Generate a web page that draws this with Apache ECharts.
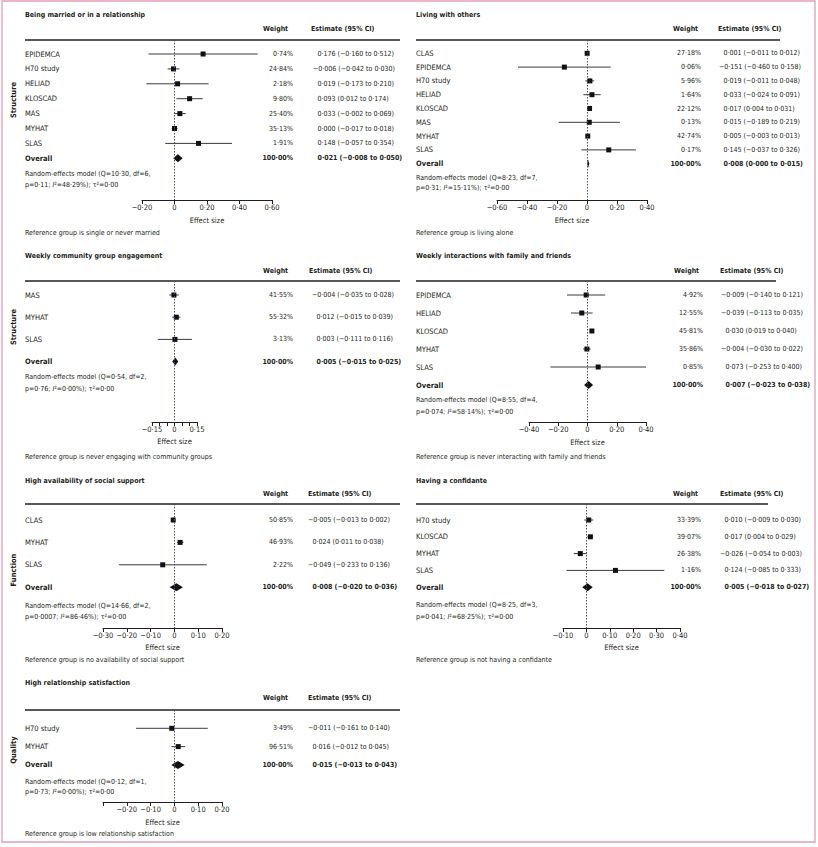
<!DOCTYPE html>
<html><head><meta charset="utf-8">
<script src="https://cdn.jsdelivr.net/npm/echarts@6/dist/echarts.min.js"></script>
<style>html,body{margin:0;padding:0;background:#fff}#c{width:818px;height:847px}</style>
</head><body><div id="c"></div>
<script>
// ---------- DATA ----------
const marriedStudies = ['EPIDEMCA','H70 study','HELIAD','KLOSCAD','MAS','MYHAT','SLAS','Overall'];
const marriedWeights = [0.74,24.84,2.18,9.80,25.40,35.13,1.91,100.00];
const marriedEst = [0.176,-0.006,0.019,0.093,0.033,0.000,0.148,0.021];
const marriedLo  = [-0.160,-0.042,-0.173,0.012,-0.002,-0.017,-0.057,-0.008];
const marriedHi  = [0.512,0.030,0.210,0.174,0.069,0.018,0.354,0.050];
const marriedTicks = [-0.2,0,0.2,0.4,0.6];
const marriedRange = [-0.2,0.6,0.2];

const livingStudies = ['CLAS','EPIDEMCA','H70 study','HELIAD','KLOSCAD','MAS','MYHAT','SLAS','Overall'];
const livingWeights = [27.18,0.06,5.96,1.64,22.12,0.13,42.74,0.17,100.00];
const livingEst = [0.001,-0.151,0.019,0.033,0.017,0.015,0.005,0.145,0.008];
const livingLo  = [-0.011,-0.460,-0.011,-0.024,0.004,-0.189,-0.003,-0.037,0.000];
const livingHi  = [0.012,0.158,0.048,0.091,0.031,0.219,0.013,0.326,0.015];
const livingTicks = [-0.6,-0.4,-0.2,0,0.2,0.4];
const livingRange = [-0.6,0.4,0.2];

const communityStudies = ['MAS','MYHAT','SLAS','Overall'];
const communityWeights = [41.55,55.32,3.13,100.00];
const communityEst = [-0.004,0.012,0.003,0.005];
const communityLo  = [-0.035,-0.015,-0.111,-0.015];
const communityHi  = [0.028,0.039,0.116,0.025];
const communityTicks = [-0.15,0,0.15];
const communityRange = [-0.15,0.15,0.05];

const familyStudies = ['EPIDEMCA','HELIAD','KLOSCAD','MYHAT','SLAS','Overall'];
const familyWeights = [4.92,12.55,45.81,35.86,0.85,100.00];
const familyEst = [-0.009,-0.039,0.030,-0.004,0.073,0.007];
const familyLo  = [-0.140,-0.113,0.019,-0.030,-0.253,-0.023];
const familyHi  = [0.121,0.035,0.040,0.022,0.400,0.038];
const familyTicks = [-0.4,-0.2,0,0.2,0.4];
const familyRange = [-0.4,0.4,0.2];

const supportStudies = ['CLAS','MYHAT','SLAS','Overall'];
const supportWeights = [50.85,46.93,2.22,100.00];
const supportEst = [-0.005,0.024,-0.049,0.008];
const supportLo  = [-0.013,0.011,-0.233,-0.020];
const supportHi  = [0.002,0.038,0.136,0.036];
const supportTicks = [-0.3,-0.2,-0.1,0,0.1,0.2];
const supportRange = [-0.3,0.2,0.1];

const confidanteStudies = ['H70 study','KLOSCAD','MYHAT','SLAS','Overall'];
const confidanteWeights = [33.39,39.07,26.38,1.16,100.00];
const confidanteEst = [0.010,0.017,-0.026,0.124,0.005];
const confidanteLo  = [-0.009,0.004,-0.054,-0.085,-0.018];
const confidanteHi  = [0.030,0.029,0.003,0.333,0.027];
const confidanteTicks = [-0.1,0,0.1,0.2,0.3,0.4];
const confidanteRange = [-0.1,0.4,0.1];

const satisfactionStudies = ['H70 study','MYHAT','Overall'];
const satisfactionWeights = [3.49,96.51,100.00];
const satisfactionEst = [-0.011,0.016,0.015];
const satisfactionLo  = [-0.161,-0.012,-0.013];
const satisfactionHi  = [0.140,0.045,0.043];
const satisfactionTicks = [-0.2,-0.1,0,0.1,0.2];
const satisfactionRange = [-0.3,0.2,0.1];

// ---------- TEXT ----------
const panelTitles = ['Being married or in a relationship','Living with others','Weekly community group engagement',
  'Weekly interactions with family and friends','High availability of social support','Having a confidante','High relationship satisfaction'];
const statsLine1 = ['Random-effects model (Q=10·30, df=6,','Random-effects model (Q=8·23, df=7,','Random-effects model (Q=0·54, df=2,',
  'Random-effects model (Q=8·55, df=4,','Random-effects model (Q=14·66, df=2,','Random-effects model (Q=8·25, df=3,','Random-effects model (Q=0·12, df=1,'];
const statsP = ['p=0·11; ','p=0·31; ','p=0·76; ','p=0·074; ','p=0·0007; ','p=0·041; ','p=0·73; '];
const statsI2 = ['²=48·29%); τ²=0·00','²=15·11%); τ²=0·00','²=0·00%); τ²=0·00','²=58·14%); τ²=0·00','²=86·46%); τ²=0·00','²=68·25%); τ²=0·00','²=0·00%); τ²=0·00'];
const refTexts = ['Reference group is single or never married','Reference group is living alone','Reference group is never engaging with community groups',
  'Reference group is never interacting with family and friends','Reference group is no availability of social support','Reference group is not having a confidante',
  'Reference group is low relationship satisfaction'];
const sideLabels = [['Structure',100],['Structure',327],['Function',570],['Quality',750]];

// ---------- LAYOUT (pixels) ----------
const layouts = [
 {L:142,R:272,T:40,B:200,r0:54,s:14.9,x0:25,wx:293,ex:313,ruleR:400,hW:263,hE:311,tY:15,hY:29,s1:174,s2:185,eY:221,rY:233},
 {L:497,R:647,T:40,B:200,r0:53.3,s:13.8,x0:416,wx:701,ex:719,ruleR:780,hW:673,hE:718,tY:15,hY:29,s1:178,s2:188,eY:221,rY:233},
 {L:152,R:197,T:281,B:422,r0:295,s:22.2,x0:25,wx:293,ex:312,ruleR:400,hW:263,hE:309,tY:256,hY:271,s1:377,s2:389,eY:442,rY:457},
 {L:529,R:646,T:281,B:422,r0:295,s:18,x0:416,wx:703,ex:721,ruleR:776,hW:674,hE:720,tY:256,hY:271,s1:400,s2:412,eY:443,rY:457},
 {L:103,R:222,T:504,B:628,r0:520,s:22.4,x0:25,wx:293,ex:308,ruleR:400,hW:263,hE:308,tY:481,hY:494,s1:606,s2:617,eY:648,rY:660},
 {L:563,R:680,T:504,B:628,r0:520,s:16.8,x0:416,wx:701,ex:720,ruleR:768,hW:673,hE:720,tY:481,hY:494,s1:605,s2:617,eY:648,rY:660},
 {L:103,R:222,T:710,B:802,r0:728.3,s:18.3,x0:25,wx:293,ex:308,ruleR:400,hW:263,hE:308,tY:683,hY:698,s1:782,s2:792,eY:823,rY:834}
];
const panelData = [
 [marriedStudies,marriedWeights,marriedEst,marriedLo,marriedHi,marriedTicks,marriedRange],
 [livingStudies,livingWeights,livingEst,livingLo,livingHi,livingTicks,livingRange],
 [communityStudies,communityWeights,communityEst,communityLo,communityHi,communityTicks,communityRange],
 [familyStudies,familyWeights,familyEst,familyLo,familyHi,familyTicks,familyRange],
 [supportStudies,supportWeights,supportEst,supportLo,supportHi,supportTicks,supportRange],
 [confidanteStudies,confidanteWeights,confidanteEst,confidanteLo,confidanteHi,confidanteTicks,confidanteRange],
 [satisfactionStudies,satisfactionWeights,satisfactionEst,satisfactionLo,satisfactionHi,satisfactionTicks,satisfactionRange]
];

const FONT = "'Liberation Sans Narrow','Arial Narrow','DejaVu Sans Condensed','Liberation Sans',sans-serif";
const INK = '#231f20';
const FS = 7;       // numbers, notes
const FS_NAME = 7.5; // study names
const FS_B = 7;     // bold headers / titles
const fmtNum = v => (v < 0 ? '−' : '') + Math.abs(v).toFixed(3).replace('.', '·');
const fmtTick = v => Math.abs(v) < 1e-9 ? '0' : (v < 0 ? '−' : '') + Math.abs(v).toFixed(2).replace('.', '·');
const fmtW = w => w.toFixed(2).replace('.', '·') + '%';
const txt = (extra) => Object.assign({fontFamily: FONT, fontSize: FS, color: INK}, extra || {});

const grids = [], xAxes = [], yAxes = [], series = [], graphics = [];

graphics.push({type:'rect', shape:{x:2, y:1, width:813, height:841}, style:{fill:'none', stroke:'#e39db6', lineWidth:1.3}, silent:true});

panelData.forEach((pd, i) => {
  const [studies, weights, est, lo, hi, ticks, range] = pd;
  const g = layouts[i];
  const idx = studies.map((_, k) => k);
  grids.push({left:g.L, top:g.T, width:g.R-g.L, height:g.B-g.T, containLabel:false, outerBoundsMode:'none'});
  xAxes.push({
    gridIndex:i, type:'value', min:range[0], max:range[1], interval:range[2],
    axisLine:{onZero:false, lineStyle:{color:INK, width:1}},
    axisTick:{length:4, lineStyle:{color:INK, width:1}},
    splitLine:{show:false},
    axisLabel:Object.assign(txt({fontSize:7.5}), {margin:3, formatter: v => ticks.some(t => Math.abs(t - v) < 1e-9) ? fmtTick(v) : ''}),
    name:'Effect size', nameLocation:'middle', nameGap:g.eY - g.B - 5, nameTextStyle:txt({fontSize:7.5})
  });
  const yBase = {gridIndex:i, type:'value', inverse:true, min:(g.T - g.r0)/g.s, max:(g.B - g.r0)/g.s,
    axisLine:{show:false, onZero:false}, axisTick:{show:false}, splitLine:{show:false}};
  yAxes.push(Object.assign({}, yBase, {position:'left',
    axisLabel:Object.assign(txt({fontSize:FS_NAME}), {customValues:idx, align:'left', margin:g.L - g.x0,
      formatter: v => { const s = studies[Math.round(v)]; return s === 'Overall' ? '{b|' + s + '}' : s; },
      rich:{b:txt({fontSize:FS_NAME, fontWeight:'bold'})}})}));
  yAxes.push(Object.assign({}, yBase, {position:'right', offset:g.wx - g.R,
    axisLabel:Object.assign(txt(), {customValues:idx, align:'right', margin:0,
      formatter: v => { const k = Math.round(v); const s = fmtW(weights[k]); return studies[k] === 'Overall' ? '{b|' + s + '}' : s; },
      rich:{b:txt({fontWeight:'bold'})}})}));
  yAxes.push(Object.assign({}, yBase, {position:'right', offset:g.ex - g.R,
    axisLabel:Object.assign(txt(), {customValues:idx, align:'left', margin:0,
      formatter: v => {
        const k = Math.round(v);
        const s = fmtNum(est[k]) + ' (' + fmtNum(lo[k]) + ' to ' + fmtNum(hi[k]) + ')';
        const ov = studies[k] === 'Overall';
        const key = (ov ? 'b' : 'n') + (est[k] < 0 ? 'n' : 'p');
        return '{' + key + '|' + s + '}';
      },
      rich:{np:txt({padding:[0,0,0,4.5]}), nn:txt(), bp:txt({fontWeight:'bold', padding:[0,0,0,4.5]}), bn:txt({fontWeight:'bold'})}})}));
  series.push({
    type:'custom', xAxisIndex:i, yAxisIndex:3*i, clip:false, silent:true,
    data: studies.map((s, k) => [k, est[k], lo[k], hi[k], s === 'Overall' ? 1 : 0]),
    encode:{x:[1,2,3], y:0},
    renderItem:(params, api) => {
      const k = api.value(0);
      const pE = api.coord([api.value(1), k]);
      const pL = api.coord([api.value(2), k]);
      const pH = api.coord([api.value(3), k]);
      if (api.value(4)) {
        return {type:'polygon', shape:{points:[[pL[0],pE[1]],[pE[0],pE[1]-4],[pH[0],pE[1]],[pE[0],pE[1]+4]]}, style:{fill:'#111'}};
      }
      return {type:'group', children:[
        {type:'line', shape:{x1:pL[0], y1:pE[1], x2:pH[0], y2:pE[1]}, style:{stroke:'#3a3a3a', lineWidth:1}},
        {type:'rect', shape:{x:pE[0]-2.5, y:pE[1]-2.5, width:5, height:5}, style:{fill:'#111'}}
      ]};
    },
    markLine:{silent:true, symbol:'none', label:{show:false}, animation:false,
      lineStyle:{type:[1.5,1.5], color:'#3f5170', width:1}, data:[{xAxis:0}]}
  });
  const tstyle = (extra) => Object.assign({font: FS + 'px ' + FONT, fill: INK, textVerticalAlign:'middle', verticalAlign:'middle'}, extra || {});
  const bfont = 'bold ' + FS_B + 'px ' + FONT;
  graphics.push({type:'text', x:g.x0, y:g.tY, silent:true, style:tstyle({text:panelTitles[i], font:bfont})});
  graphics.push({type:'text', x:g.hW, y:g.hY, silent:true, style:tstyle({text:'Weight', font:bfont})});
  graphics.push({type:'text', x:g.hE, y:g.hY, silent:true, style:tstyle({text:'Estimate (95% CI)', font:bfont})});
  graphics.push({type:'line', silent:true, shape:{x1:g.x0, y1:g.T, x2:g.ruleR, y2:g.T}, style:{stroke:INK, lineWidth:1.3}});
  graphics.push({type:'text', x:g.x0, y:g.s1, silent:true, style:tstyle({text:statsLine1[i]})});
  graphics.push({type:'text', x:g.x0, y:g.s2, silent:true, style:tstyle({
    text:'{n|' + statsP[i] + '}{i|I}{n|' + statsI2[i] + '}',
    rich:{n:{fontFamily:FONT, fontSize:FS, fill:INK, color:INK}, i:{fontFamily:FONT, fontSize:FS, fontStyle:'italic', fill:INK, color:INK}}})});
  graphics.push({type:'text', x:g.x0, y:g.rY, silent:true, style:tstyle({text:refTexts[i]})});
});
sideLabels.forEach(([t, y]) => {
  graphics.push({type:'text', x:13, y:y, rotation:Math.PI/2, silent:true,
    style:{text:t, font:'bold 7.5px ' + FONT, fill:INK, textAlign:'center', align:'center', textVerticalAlign:'middle', verticalAlign:'middle'}});
});

const chart = echarts.init(document.getElementById('c'), null, {renderer:'svg'});
chart.setOption({
  animation:false,
  backgroundColor:'#fff',
  textStyle:{fontFamily:FONT},
  grid:grids, xAxis:xAxes, yAxis:yAxes, series:series, graphic:graphics
});
</script></body></html>
